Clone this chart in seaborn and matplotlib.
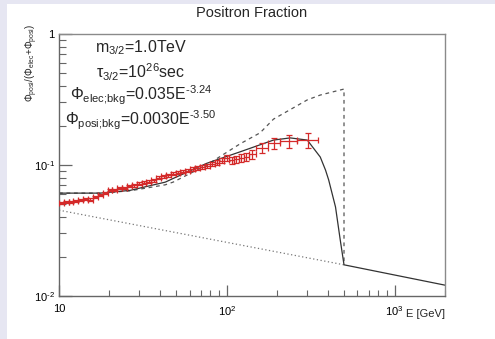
import numpy as np
import pandas as pd
import matplotlib
matplotlib.use("Agg")
import matplotlib.pyplot as plt
from matplotlib.patches import Rectangle
import seaborn as sns

# ---------------- data ----------------
# measured positron fraction: bin edges, values, errors
bin_lo = [10.0, 10.7, 11.4, 12.2, 13.0, 13.9, 14.9, 15.9, 17.0, 18.2, 19.5, 20.8,
          22.3, 23.8, 25.4, 27.2, 29.1, 31.1, 33.2, 35.5, 38.0, 40.6, 43.4, 46.4,
          49.6, 53.0, 56.6, 60.6, 64.7, 69.2, 74.0, 79.1, 84.6, 90.4, 96.6, 103.3,
          110.4, 118.0, 126.2, 134.9, 150.0, 177.0, 209.0, 262.0]
bin_hi = [10.7, 11.4, 12.2, 13.0, 13.9, 14.9, 15.9, 17.0, 18.2, 19.5, 20.8, 22.3,
          23.8, 25.4, 27.2, 29.1, 31.1, 33.2, 35.5, 38.0, 40.6, 43.4, 46.4, 49.6,
          53.0, 56.6, 60.6, 64.7, 69.2, 74.0, 79.1, 84.6, 90.4, 96.6, 103.3, 110.4,
          118.0, 126.2, 134.9, 150.0, 177.0, 209.0, 262.0, 352.0]
frac = [0.0515, 0.0520, 0.0525, 0.0532, 0.0540, 0.0548, 0.0545, 0.0570, 0.0592,
        0.0610, 0.0640, 0.0648, 0.0665, 0.0672, 0.0690, 0.0698, 0.0722, 0.0735,
        0.0748, 0.0762, 0.0800, 0.0820, 0.0838, 0.0860, 0.0872, 0.0890, 0.0905,
        0.0935, 0.0950, 0.0970, 0.0985, 0.1020, 0.1040, 0.1080, 0.1130, 0.1090,
        0.1110, 0.1130, 0.1160, 0.1210, 0.1350, 0.1470, 0.1530, 0.1550]
frac_err = [0.0008, 0.0008, 0.0008, 0.0009, 0.0009, 0.0009, 0.0010, 0.0010, 0.0010,
            0.0011, 0.0012, 0.0012, 0.0013, 0.0013, 0.0014, 0.0014, 0.0015, 0.0015,
            0.0016, 0.0016, 0.0020, 0.0021, 0.0022, 0.0024, 0.0025, 0.0026, 0.0028,
            0.0030, 0.0032, 0.0034, 0.0038, 0.0042, 0.0046, 0.0050, 0.0060, 0.0065,
            0.0070, 0.0075, 0.0085, 0.0095, 0.0120, 0.0150, 0.0170, 0.0210]

# model: total (solid)
tot_E = [10, 17.6, 26.5, 43, 48, 76, 120, 190, 239, 302, 361, 388, 405, 445, 475, 500, 2000]
tot_F = [0.061, 0.061, 0.064, 0.074, 0.079, 0.103, 0.126, 0.155, 0.161, 0.155, 0.115,
         0.0914, 0.077, 0.0478, 0.0267, 0.0173, 0.0121]
# model: alternative (dashed)
alt_E = [10, 17.6, 26.5, 43, 48, 76, 120, 158, 190, 302, 361, 500, 500]
alt_F = [0.061, 0.061, 0.0635, 0.0706, 0.0741, 0.100, 0.145, 0.176, 0.224, 0.314, 0.342,
         0.380, 0.0173]
# background (dotted)
bkg_E = [10, 500]
bkg_F = [0.0452, 0.0173]

x_ticks = [10, 100, 1000]
x_ticklabels = ["10", "$10^{2}$", "$10^{3}$"]
y_ticks = [0.01, 0.1, 1]
y_ticklabels = [r"$10^{\text{-2}}$", r"$10^{\text{-1}}$", "1"]

annotations = [r"m$_{3/2}$=1.0TeV",
               r"τ$_{3/2}$=10$^{26}$sec",
               r"Φ$_{\text{elec;bkg}}$=0.035E$^{\text{-3.24}}$",
               r"Φ$_{\text{posi;bkg}}$=0.0030E$^{\text{-3.50}}$"]

# ---------------- style ----------------
sns.set_style("ticks")
plt.rcParams["font.family"] = ["Liberation Sans", "DejaVu Sans"]
plt.rcParams["mathtext.fontset"] = "custom"
plt.rcParams["mathtext.rm"] = "Liberation Sans"
plt.rcParams["mathtext.it"] = "Liberation Sans"
plt.rcParams["mathtext.default"] = "regular"

W, H = 495, 339
fig = plt.figure(figsize=(W / 100, H / 100), dpi=100, facecolor="white")

# lavender page border (left and top)
lav = "#e6e6f2"
fig.patches.append(Rectangle((0, 0), 7 / W, 1, transform=fig.transFigure,
                             facecolor=lav, edgecolor="none", zorder=0))
fig.patches.append(Rectangle((0, 1 - 3.5 / H), 1, 3.5 / H, transform=fig.transFigure,
                             facecolor=lav, edgecolor="none", zorder=0))

ax = fig.add_axes([59 / W, 1 - 296 / H, 386 / W, 262 / H])
ax.set_xscale("log")
ax.set_yscale("log")

# background (dotted)
sns.lineplot(x=bkg_E, y=bkg_F, ax=ax, color="#777777", linestyle=(0, (1, 2)),
             linewidth=0.9, sort=False, estimator=None)
# dashed model
sns.lineplot(x=alt_E, y=alt_F, ax=ax, color="#555555", linestyle=(0, (3, 3)),
             linewidth=0.9, sort=False, estimator=None)
# solid model
sns.lineplot(x=tot_E, y=tot_F, ax=ax, color="#333333", linestyle="-",
             linewidth=0.9, sort=False, estimator=None)

# data with error bars
lo = np.array(bin_lo)
hi = np.array(bin_hi)
ec = np.sqrt(lo * hi)
ax.errorbar(ec, frac, xerr=[ec - lo, hi - ec], yerr=frac_err, fmt="none",
            ecolor="#d42a2a", elinewidth=0.9, capsize=2, capthick=0.9, zorder=5)

ax.set_xlim(10, 2000)
ax.set_ylim(0.01, 1)

ax.set_xticks(x_ticks)
ax.set_xticklabels(x_ticklabels)
ax.set_yticks(y_ticks)
ax.set_yticklabels(y_ticklabels)

spine_col = "#666666"
for s in ["left", "bottom"]:
    ax.spines[s].set_color(spine_col)
    ax.spines[s].set_linewidth(1.0)
for s in ["top", "right"]:
    ax.spines[s].set_color("#8a8a8a")
    ax.spines[s].set_linewidth(1.0)

ax.tick_params(axis="both", which="both", direction="in", colors=spine_col,
               top=False, right=False, labelcolor="black")
ax.tick_params(axis="y", which="major", length=9, width=0.9, labelsize=8, pad=3)
ax.tick_params(axis="y", which="minor", length=5, width=0.8)
ax.tick_params(axis="x", which="major", length=8, width=0.9, labelsize=8, pad=6)
ax.tick_params(axis="x", which="minor", length=4, width=0.8)
ax.xaxis.set_minor_formatter(matplotlib.ticker.NullFormatter())
ax.yaxis.set_minor_formatter(matplotlib.ticker.NullFormatter())
ax.set_xlabel("")
ax.set_ylabel("")

# labels and title
fig.text(252 / W, 1 - 13 / H, "Positron Fraction", ha="center", va="center",
         fontsize=10.5)
fig.text(445 / W, 1 - 314 / H, "E [GeV]", ha="right", va="center", fontsize=8)
fig.text(32 / W, 1 - 63 / H, r"Φ$_{posi}$/(Φ$_{elec}$+Φ$_{posi}$)", rotation=90,
         ha="center", va="center", fontsize=7)

ys = [48, 72, 95, 120]
for t, yy in zip(annotations, ys):
    fig.text(141 / W, 1 - yy / H, t, ha="center", va="center", fontsize=11.5)

fig.savefig("out.png", dpi=100, facecolor="white")
